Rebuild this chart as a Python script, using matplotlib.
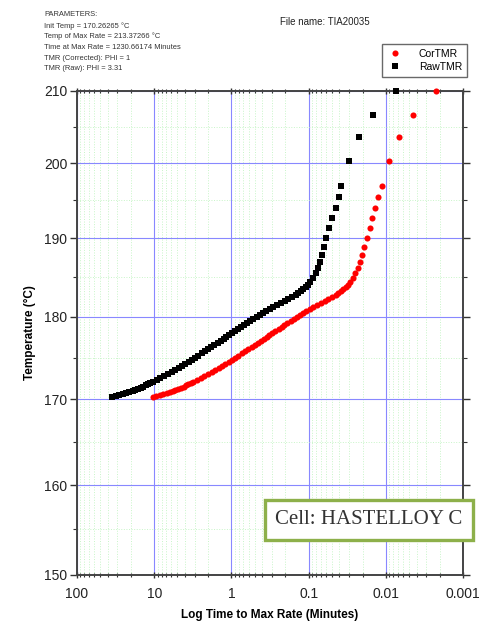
import numpy as np
import matplotlib
matplotlib.use("Agg")
import matplotlib.pyplot as plt
from matplotlib.ticker import MultipleLocator, LogLocator, NullFormatter, FixedLocator

# Temperatures (deg C) shared by both TMR series
temp_c = [170.25, 170.375, 170.5, 170.625, 170.75, 170.875, 171.0, 171.125, 171.25, 171.375,
          171.5, 171.625, 171.75, 171.875, 172.0, 172.25, 172.5,
          172.75, 173.0, 173.25, 173.5, 173.75, 174.0, 174.25, 174.5, 174.75, 175.0,
          175.25, 175.5, 175.75, 176.0, 176.25, 176.5, 176.75, 177.0, 177.25, 177.5,
          177.75, 178.0, 178.25, 178.5, 178.75, 179.0, 179.25, 179.5, 179.75, 180.0,
          180.25, 180.5, 180.75, 181.0, 181.25, 181.5, 181.75, 182.0, 182.25, 182.5,
          182.75, 183.0, 183.25, 183.5, 183.75, 184.0,
          184.4, 184.9, 185.5, 186.2, 187.0, 187.9, 188.9, 190.1, 191.3, 192.6,
          194.0, 195.5, 196.9, 200.3, 203.5, 206.6, 209.95]

# log10 of time to max rate (minutes), raw (PHI = 3.31)
raw_log_tmr = [1.54, 1.495, 1.45, 1.405, 1.36, 1.32, 1.28, 1.245, 1.21, 1.175,
               1.14, 1.11, 1.08, 1.05, 1.02, 0.97, 0.92,
               0.87, 0.82, 0.775, 0.73, 0.685, 0.64, 0.60, 0.555, 0.51, 0.47,
               0.43, 0.385, 0.345, 0.30, 0.26, 0.22, 0.18, 0.14, 0.10, 0.065,
               0.03, -0.01, -0.05, -0.09, -0.13, -0.165, -0.205, -0.245, -0.285, -0.325,
               -0.365, -0.405, -0.45, -0.495, -0.54, -0.59, -0.64, -0.69, -0.735, -0.78,
               -0.83, -0.865, -0.895, -0.93, -0.96, -0.985,
               -1.023, -1.057, -1.088, -1.114, -1.140, -1.166, -1.195, -1.230, -1.264, -1.303,
               -1.347, -1.386, -1.419, -1.523, -1.657, -1.833, -2.136]

# log10 of time to max rate (minutes), corrected (PHI = 1)
cor_log_tmr = [1.02, 0.975, 0.93, 0.885, 0.84, 0.80, 0.76, 0.725, 0.69, 0.655,
               0.62, 0.59, 0.56, 0.53, 0.50, 0.45, 0.40,
               0.35, 0.30, 0.255, 0.21, 0.165, 0.12, 0.08, 0.035, -0.01, -0.05,
               -0.09, -0.135, -0.175, -0.22, -0.26, -0.30, -0.34, -0.38, -0.42, -0.455,
               -0.49, -0.53, -0.57, -0.61, -0.65, -0.685, -0.725, -0.765, -0.805, -0.845,
               -0.885, -0.925, -0.97, -1.015, -1.06, -1.11, -1.16, -1.21, -1.255, -1.30,
               -1.35, -1.385, -1.415, -1.45, -1.48, -1.505,
               -1.54, -1.567, -1.605, -1.635, -1.661, -1.691, -1.722, -1.752, -1.787, -1.825,
               -1.864, -1.903, -1.946, -2.045, -2.175, -2.356, -2.653]

params = ["PARAMETERS:",
          "Init Temp = 170.26265 \u00b0C",
          "Temp of Max Rate = 213.37266 \u00b0C",
          "Time at Max Rate = 1230.66174 Minutes",
          "TMR (Corrected): PHI = 1",
          "TMR (Raw): PHI = 3.31"]

raw_tmr = 10 ** np.array(raw_log_tmr)
cor_tmr = 10 ** np.array(cor_log_tmr)


def fwd(t):
    return -1000.0 / (np.asarray(t, dtype=float) + 273.15)


def inv(u):
    return -1000.0 / np.asarray(u, dtype=float) - 273.15


plt.rcParams['font.family'] = ['Liberation Sans', 'DejaVu Sans']

fig = plt.figure(figsize=(4.81, 6.25), dpi=100)
ax = fig.add_axes([0.160, 0.080, 0.803, 0.7745])

ax.set_xscale('log')
ax.set_yscale('function', functions=(fwd, inv))
ax.set_xlim(100, 0.001)
ax.set_ylim(150, 210)

ax.plot(cor_tmr, temp_c, linestyle='none', marker='o', ms=4.4, mfc='red', mec='red',
        mew=0, label='CorTMR', clip_on=False, zorder=3)
ax.plot(raw_tmr, temp_c, linestyle='none', marker='s', ms=4.0, mfc='black', mec='black',
        mew=0, label='RawTMR', clip_on=False, zorder=3)

# ticks
ax.xaxis.set_major_locator(FixedLocator([100, 10, 1, 0.1, 0.01, 0.001]))
ax.set_xticklabels(['100', '10', '1', '0.1', '0.01', '0.001'])
ax.xaxis.set_minor_locator(LogLocator(base=10, subs=np.arange(2, 10)))
ax.xaxis.set_minor_formatter(NullFormatter())
ax.yaxis.set_major_locator(MultipleLocator(10))
ax.yaxis.set_minor_locator(MultipleLocator(5))
ax.yaxis.set_minor_formatter(NullFormatter())

ax.tick_params(axis='both', which='major', labelsize=10, colors='#333333', length=5, width=1.0)
ax.tick_params(axis='both', which='minor', length=3, width=0.8, colors='#333333')
ax.tick_params(axis='y', which='both', direction='out', right=True, pad=2)
ax.tick_params(axis='x', which='both', direction='inout', top=True, pad=6)
for t in ax.get_xticklabels() + ax.get_yticklabels():
    t.set_color('#222222')

# grid
ax.grid(True, which='minor', color='#c8f5c8', linestyle=':', linewidth=0.7, zorder=0)
ax.grid(True, which='major', color='#8888ff', linestyle='-', linewidth=0.8, zorder=0)
ax.set_axisbelow(True)

for s in ax.spines.values():
    s.set_color('#444444')
    s.set_linewidth(1.4)

ax.set_ylabel('Temperature (\u00b0C)', fontsize=8.5, fontweight='bold', labelpad=6)
ax.set_xlabel('Log Time to Max Rate (Minutes)', fontsize=8.5, fontweight='bold', labelpad=6)

leg = fig.legend(loc='upper left', bbox_to_anchor=(382 / 481, 1 - 44 / 625), fontsize=7.5,
                 frameon=True, fancybox=False, edgecolor='#444444', handletextpad=1.6,
                 borderpad=0.45, labelspacing=0.3, handlelength=1.5, markerscale=1.0,
                 borderaxespad=0)
leg.get_frame().set_linewidth(1.0)

# parameter block and file name
for i, line in enumerate(params):
    fig.text(44 / 481, 1 - (15 + 10.8 * i) / 625, line, fontsize=5.4, color='#333333',
             va='center', ha='left')
fig.text(280 / 481, 1 - 22 / 625, "File name: TIA20035", fontsize=7, color='#222222',
         va='center', ha='left')

# cell box
fig.text(369 / 481, 1 - 520 / 625, "Cell: HASTELLOY C", fontsize=15,
         family=['Liberation Serif', 'DejaVu Serif'], color='#333333', ha='center', va='center',
         bbox=dict(boxstyle='square,pad=0.5', facecolor='white', edgecolor='#8db04a', linewidth=2.4))

fig.savefig('out.png', dpi=100)
